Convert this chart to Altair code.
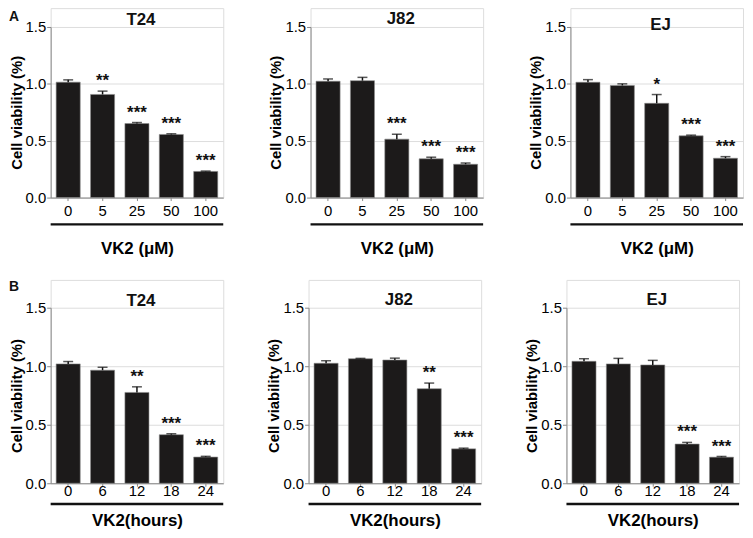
import altair as alt
import pandas as pd

FONT = "Liberation Sans"

conc_labels = ["0", "5", "25", "50", "100"]
time_labels = ["0", "6", "12", "18", "24"]

t24_conc_mean = [1.015, 0.907, 0.651, 0.555, 0.230]
t24_conc_top = [1.035, 0.936, 0.660, 0.561, 0.233]
t24_conc_sig = ["", "**", "***", "***", "***"]

j82_conc_mean = [1.023, 1.028, 0.514, 0.341, 0.293]
j82_conc_top = [1.043, 1.057, 0.557, 0.355, 0.304]
j82_conc_sig = ["", "", "***", "***", "***"]

ej_conc_mean = [1.014, 0.986, 0.829, 0.543, 0.346]
ej_conc_top = [1.037, 1.000, 0.906, 0.549, 0.360]
ej_conc_sig = ["", "", "*", "***", "***"]

t24_time_mean = [1.020, 0.966, 0.776, 0.415, 0.224]
t24_time_top = [1.040, 0.991, 0.824, 0.423, 0.230]
t24_time_sig = ["", "", "**", "***", "***"]

j82_time_mean = [1.025, 1.064, 1.053, 0.808, 0.294]
j82_time_top = [1.047, 1.067, 1.069, 0.856, 0.300]
j82_time_sig = ["", "", "", "**", "***"]

ej_time_mean = [1.042, 1.020, 1.011, 0.335, 0.223]
ej_time_top = [1.064, 1.067, 1.050, 0.349, 0.229]
ej_time_sig = ["", "", "", "***", "***"]

y_ticks = [0, 0.5, 1.0, 1.5]

W = 174


def panel(title, cats, mean, top, sig, xtitle, H, D, label_pad, title_pad, line_dy, title_y, ytp,
          letter=None, letter_xy=None):
    df = pd.DataFrame({"cat": cats, "mean": mean, "top": top, "sig": sig})
    HT = H + D
    x = alt.X(
        "cat:N",
        sort=cats,
        scale=alt.Scale(paddingInner=0.3, paddingOuter=0.16),
        axis=alt.Axis(
            title=xtitle, labelAngle=0, tickSize=3, labelPadding=label_pad,
            titlePadding=title_pad, titleFontSize=17, labelFontSize=15,
        ),
    )
    y = alt.Y(
        "mean:Q",
        scale=alt.Scale(domain=[0, 1.5], nice=False, range=[HT, D]),
        axis=alt.Axis(
            title="Cell viability (%)", values=y_ticks, format=".1f", tickSize=4,
            labelPadding=1, titlePadding=ytp, titleFontSize=15, labelFontSize=15,
        ),
    )
    base = alt.Chart(df)
    bars = base.mark_bar(color="#1c1a1a", stroke="#8a8a8a", strokeWidth=0.6).encode(x=x, y=y)
    err = base.mark_rule(color="#111", strokeWidth=1.5).encode(x=alt.X("cat:N", sort=cats), y="mean:Q", y2="top:Q")
    cap = base.mark_tick(color="#111", thickness=1.5, size=10).encode(x=alt.X("cat:N", sort=cats), y="top:Q")
    stars = base.mark_text(
        font=FONT, fontSize=17, fontWeight="bold", color="#111", baseline="alphabetic", dy=-5
    ).encode(x=alt.X("cat:N", sort=cats), y="top:Q", text="sig:N")
    under = alt.Chart(pd.DataFrame({"k": [0]})).mark_rule(color="#111", strokeWidth=2.5).encode(
        x=alt.value(0), x2=alt.value(W), y=alt.value(HT + line_dy)
    )
    ttl = alt.Chart(pd.DataFrame({"t": [title]})).mark_text(
        font=FONT, fontSize=17, fontWeight="bold", color="#111", align="center", baseline="middle"
    ).encode(x=alt.value(W / 2 + 4), y=alt.value(D + title_y), text="t:N")
    layers = [bars, err, cap, stars, under, ttl]
    if letter:
        lab = alt.Chart(pd.DataFrame({"t": [letter]})).mark_text(
            font=FONT, fontSize=14, fontWeight="bold", color="#111", align="left", baseline="middle"
        ).encode(x=alt.value(letter_xy[0]), y=alt.value(D + letter_xy[1]), text="t:N")
        layers.append(lab)
    return alt.layer(*layers).properties(width=W, height=HT)


HA, HB = 172, 177
DA, DB = 19, 28
rowA = alt.hconcat(
    panel("T24", conc_labels, t24_conc_mean, t24_conc_top, t24_conc_sig, "VK2 (\u03bcM)", HA, DA, 3, 22, 27, -7, 1, "A", (-42, -10)),
    panel("J82", conc_labels, j82_conc_mean, j82_conc_top, j82_conc_sig, "VK2 (\u03bcM)", HA, DA, 3, 22, 27, -8, 1),
    panel("EJ", conc_labels, ej_conc_mean, ej_conc_top, ej_conc_sig, "VK2 (\u03bcM)", HA, DA, 3, 22, 27, -2, 1),
    spacing=43,
)
rowB = alt.hconcat(
    panel("T24", time_labels, t24_time_mean, t24_time_top, t24_time_sig, "VK2(hours)", HB, DB, -3, 15, 21, -7, 1, "B", (-42, -21)),
    panel("J82", time_labels, j82_time_mean, j82_time_top, j82_time_sig, "VK2(hours)", HB, DB, -3, 15, 21, -8, 1),
    panel("EJ", time_labels, ej_time_mean, ej_time_top, ej_time_sig, "VK2(hours)", HB, DB, -3, 15, 21, -8, 1),
    spacing=41,
)

chart = alt.vconcat(rowA, rowB, spacing=22).properties(
    padding={"left": 0, "top": -3, "right": 0, "bottom": 0}
).configure_view(strokeWidth=0, stroke="transparent").configure_axis(
    labelFont=FONT, titleFont=FONT, labelFontWeight="bold", titleFontWeight="bold",
    labelColor="#111", titleColor="#111", domainColor="#111", tickColor="#111",
    domainWidth=1.8, tickWidth=1.5, grid=False,
).configure(background="white")

chart.save("out.html", embed_options={"renderer": "svg", "actions": False})
